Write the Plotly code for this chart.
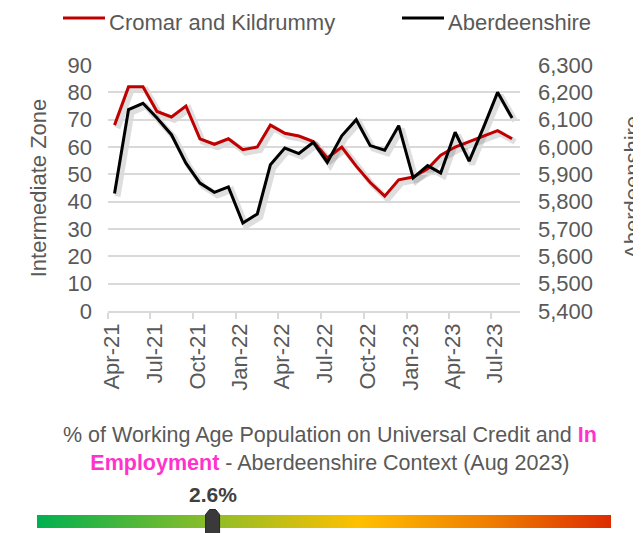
"""Universal Credit (in employment) trend chart: Cromar and Kildrummy vs Aberdeenshire."""

import pandas as pd
import plotly.graph_objects as go

# page body keeps an 8px margin, so the figure is 8px smaller than the window
PAD = 8
W, H = 641 - PAD, 533 - PAD

# Monthly series, Apr-21 .. Aug-23
MONTHS = pd.date_range("2021-04-01", "2023-08-01", freq="MS") + pd.Timedelta(days=14)
CROMAR = [68, 82, 82, 73, 71, 75, 63, 61, 63, 59, 60, 68, 65, 64, 62, 56, 60,
          53, 47, 42, 48, 49, 52, 57, 60, 62, 64, 66, 63]
ABERDEENSHIRE = [5830, 6137, 6160, 6106, 6045, 5941, 5868, 5834, 5854, 5722, 5755,
                 5935, 5996, 5976, 6017, 5944, 6041, 6100, 6005, 5988, 6078, 5887,
                 5932, 5905, 6054, 5948, 6073, 6200, 6106]
SERIES_NAMES = ["Cromar and Kildrummy", "Aberdeenshire"]

TICK_DATES = pd.date_range("2021-04-01", "2023-07-01", freq="3MS")
TICK_TEXT = [d.strftime("%b-%y") for d in TICK_DATES]

LEFT_TICKS = list(range(0, 91, 10))
RIGHT_TICKS = list(range(5400, 6301, 100))

GAUGE_VALUE = 2.6
GAUGE_RANGE = [0, 8.5]
GAUGE_COLORS = [[0, "#00B050"], [0.3, "#8CBD28"], [0.56, "#FFC000"],
                [0.8, "#EE7A00"], [1, "#DD2C00"]]

RED = "#C00000"
PINK = "#FF33CC"
GREY_TXT = "#595959"
GRID = "#D9D9D9"
FONT = "Liberation Sans, Arial, sans-serif"
FS = 22


def fx(x):
    """window pixel x -> paper fraction"""
    return (x - PAD) / W


def fy(y):
    """window pixel y -> paper fraction"""
    return 1 - (y - PAD) / H


def dom_x(a, b):
    return [fx(a), fx(b)]


def dom_y(top, bottom):
    return [fy(bottom), fy(top)]


fig = go.Figure()

# soft drop shadows, drawn on a copy of the axes nudged 3px right / down
shadow = dict(width=6, color="rgba(0,0,0,0.13)")
fig.add_trace(go.Scatter(x=MONTHS, y=CROMAR, mode="lines", line=shadow,
                         xaxis="x", yaxis="y", hoverinfo="skip"))
fig.add_trace(go.Scatter(x=MONTHS, y=ABERDEENSHIRE, mode="lines", line=shadow,
                         xaxis="x", yaxis="y2", hoverinfo="skip"))

fig.add_trace(go.Scatter(x=MONTHS, y=CROMAR, mode="lines", name=SERIES_NAMES[0],
                         line=dict(color=RED, width=3), xaxis="x2", yaxis="y3"))
fig.add_trace(go.Scatter(x=MONTHS, y=ABERDEENSHIRE, mode="lines", name=SERIES_NAMES[1],
                         line=dict(color="#000000", width=3), xaxis="x2", yaxis="y4"))

# colour scale bar for the context gauge
fig.add_trace(go.Scatter(
    x=[GAUGE_RANGE[0], GAUGE_RANGE[1], GAUGE_RANGE[1], GAUGE_RANGE[0]],
    y=[0, 0, 1, 1], mode="none", fill="toself", xaxis="x3", yaxis="y5",
    hoverinfo="skip",
    fillgradient=dict(type="horizontal", colorscale=GAUGE_COLORS),
))

x_common = dict(type="date", range=["2021-04-01", "2023-09-01"])
hidden = dict(visible=False, showgrid=False, zeroline=False)

fig.update_layout(
    width=W, height=H,
    margin=dict(l=0, r=0, t=0, b=0),
    paper_bgcolor="white", plot_bgcolor="rgba(0,0,0,0)",
    font=dict(family=FONT, color=GREY_TXT, size=FS),
    showlegend=False,
    xaxis=dict(domain=dom_x(111, 523), anchor="y", **x_common, **hidden),
    yaxis=dict(domain=dom_y(68, 314), range=[0, 90], anchor="x", **hidden),
    yaxis2=dict(overlaying="y", range=[5400, 6300], anchor="x", **hidden),
    xaxis2=dict(domain=dom_x(108, 520), anchor="y3", **x_common,
                tickvals=TICK_DATES, ticktext=TICK_TEXT, tickangle=-90,
                ticks="outside", ticklen=6, tickcolor=GRID, tickwidth=1.5,
                ticklabelstandoff=-4, ticklabelshift=4,
                showline=True, linecolor=GRID, linewidth=1.5, showgrid=False,
                zeroline=False, tickfont=dict(size=FS, color=GREY_TXT),
                automargin=False),
    yaxis3=dict(domain=dom_y(65, 311), range=[0, 90], anchor="x2", tickvals=LEFT_TICKS,
                showgrid=True, gridcolor=GRID, gridwidth=1.5, zeroline=False,
                ticks="", ticklabelstandoff=15, tickfont=dict(size=FS, color=GREY_TXT),
                title=dict(text="Intermediate Zone", standoff=14,
                           font=dict(size=FS, color=GREY_TXT)),
                automargin=False),
    yaxis4=dict(overlaying="y3", side="right", anchor="x2", range=[5400, 6300],
                tickvals=RIGHT_TICKS, tickformat=",d", showgrid=False, zeroline=False,
                ticks="", ticklabelstandoff=17, tickfont=dict(size=FS, color=GREY_TXT),
                automargin=False),
    xaxis3=dict(domain=dom_x(37, 611), anchor="y5", range=GAUGE_RANGE, **hidden),
    yaxis5=dict(domain=dom_y(515, 528), anchor="x3", range=[0, 1], **hidden),
)

# right-hand axis title sits half off the page, as in the source chart
fig.add_annotation(x=fx(632), y=fy(188), xref="paper", yref="paper", showarrow=False,
                   text=SERIES_NAMES[1], textangle=-90, xanchor="center",
                   yanchor="middle", font=dict(size=FS, color=GREY_TXT))

# legend, laid out by hand to match the long line samples
legend_items = [(SERIES_NAMES[0], RED, 63), (SERIES_NAMES[1], "#000000", 402)]
for name, colour, x0 in legend_items:
    fig.add_shape(type="line", xref="paper", yref="paper",
                  x0=fx(x0), x1=fx(x0 + 42), y0=fy(18), y1=fy(18),
                  line=dict(color=colour, width=3))
    fig.add_annotation(x=fx(x0 + 44), y=fy(8), xref="paper", yref="paper",
                       text=name, showarrow=False, xanchor="left", yanchor="top",
                       font=dict(size=FS, color=GREY_TXT))

# gauge pointer + value label
fig.add_shape(type="path", xref="x3", yref="paper", xsizemode="pixel", ysizemode="pixel",
              xanchor=GAUGE_VALUE, yanchor=fy(521.5),
              path="M -7 -16 L 7 -16 L 7 7 L 3 12 L -3 12 L -7 7 Z",
              fillcolor="#3A3A3A", line=dict(color="#262626", width=1))
fig.add_annotation(x=GAUGE_VALUE, xref="x3", y=fy(494), yref="paper",
                   text=f"<b>{GAUGE_VALUE}%</b>", showarrow=False, yanchor="middle",
                   font=dict(size=21, color="#404040"))

fig.add_annotation(
    x=fx(330), y=fy(449), xref="paper", yref="paper", showarrow=False,
    align="center", yanchor="middle",
    text=("% of Working Age Population on Universal Credit and "
          f"<b><span style='color:{PINK}'>In</span></b><br>"
          f"<b><span style='color:{PINK}'>Employment</span></b>"
          " - Aberdeenshire Context (Aug 2023)"),
    font=dict(size=21.5, color=GREY_TXT),
)

fig.write_html("out.html")
